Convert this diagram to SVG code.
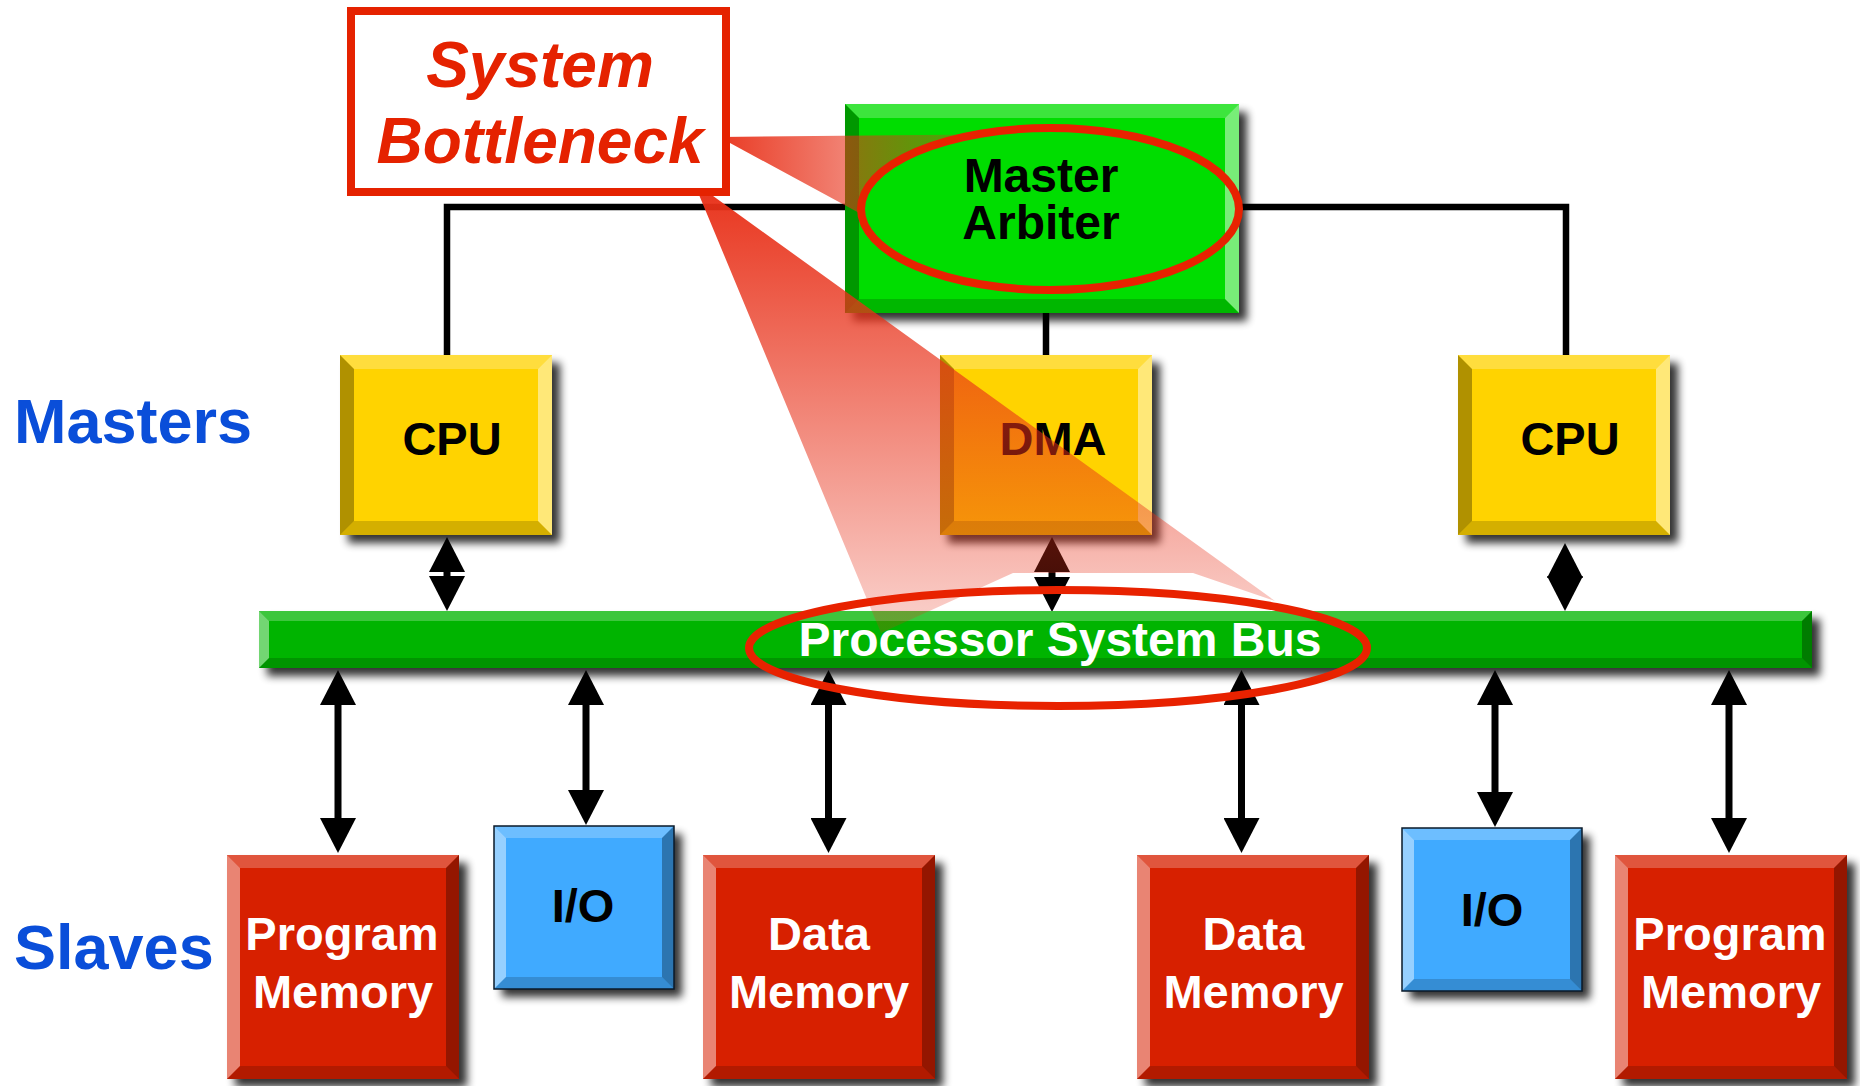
<svg xmlns="http://www.w3.org/2000/svg" xmlns:xlink="http://www.w3.org/1999/xlink" width="1860" height="1086" viewBox="0 0 1860 1086">
<style>
.top{fill:#fff;fill-opacity:.24}
.bot{fill:#000;fill-opacity:.17}
.ld{fill:#000;fill-opacity:.31}
.ll{fill:#fff;fill-opacity:.45}
.rl{fill:#fff;fill-opacity:.47}
.rd{fill:#000;fill-opacity:.31}
.shd{fill:#000;opacity:.8;filter:url(#blur)}
.wire{fill:none;stroke:#000;stroke-width:6.5;stroke-linejoin:miter}
.arr{stroke:#000;stroke-width:7;marker-start:url(#ah);marker-end:url(#ah)}
.t{font-family:"Liberation Sans",Arial,Helvetica,sans-serif;font-weight:bold;text-anchor:middle}
.blk{fill:#000;font-size:47px}
.wht{fill:#fff;font-size:47px}
.side{font-family:"Liberation Sans",Arial,Helvetica,sans-serif;font-weight:bold;font-size:63px;fill:#0A4ED9}
.co{font-family:"Liberation Sans",Arial,Helvetica,sans-serif;font-weight:bold;font-style:italic;font-size:64px;fill:#E52200;text-anchor:middle}
.ring{fill:none;stroke:#E82200;stroke-width:8}
</style>
<defs>
<filter id="blur" x="-20%" y="-20%" width="140%" height="140%"><feGaussianBlur stdDeviation="4"/></filter>
<marker id="ah" viewBox="0 0 35 36" refX="15" refY="18" markerWidth="35" markerHeight="36" markerUnits="userSpaceOnUse" orient="auto-start-reverse"><path d="M0,0 L35,18 L0,36 Z" fill="#000"/></marker>
<linearGradient id="gV" gradientUnits="userSpaceOnUse" x1="0" y1="197" x2="0" y2="633">
<stop offset="0" stop-color="#E83018" stop-opacity=".96"/><stop offset="1" stop-color="#E83018" stop-opacity=".21"/>
</linearGradient>
<linearGradient id="gH" gradientUnits="userSpaceOnUse" x1="730" y1="0" x2="975" y2="0">
<stop offset="0" stop-color="#E83018" stop-opacity=".92"/><stop offset="1" stop-color="#E83018" stop-opacity=".25"/>
</linearGradient>
<g id="boxY">
<rect x="8" y="8" width="212" height="180" class="shd"/>
<rect width="212" height="180" fill="#FFD300"/>
<polygon class="top" points="0,0 212,0 198,14 14,14"/>
<polygon class="ld" points="0,0 14,14 14,166 0,180"/>
<polygon class="rl" points="212,0 212,180 198,166 198,14"/>
<polygon class="bot" points="0,180 14,166 198,166 212,180"/>
</g>
<g id="boxM">
<rect x="8" y="8" width="232" height="224" class="shd"/>
<rect width="232" height="224" fill="#D72000"/>
<polygon class="top" points="0,0 232,0 219,13 13,13"/>
<polygon class="ll" points="0,0 13,13 13,211 0,224"/>
<polygon class="rd" points="232,0 232,224 219,211 219,13"/>
<polygon class="bot" points="0,224 13,211 219,211 232,224"/>
</g>
<g id="boxIO">
<rect x="8" y="8" width="180" height="163" class="shd"/>
<rect width="180" height="163" fill="#40AAFF"/>
<polygon class="top" points="0,0 180,0 168,12 12,12"/>
<polygon class="ll" points="0,0 12,12 12,151 0,163"/>
<polygon class="rd" points="180,0 180,163 168,151 168,12"/>
<polygon class="bot" points="0,163 12,151 168,151 180,163"/>
<rect width="180" height="163" fill="none" stroke="#0A1A2A" stroke-width="1.5"/>
</g>
</defs>
<rect width="1860" height="1086" fill="#fff"/>

<g id="connectors">
<path class="wire" d="M447,356 V207 H1566 V356"/>
<path class="wire" d="M1046,313 V356"/>
<line class="arr" x1="447" y1="557" x2="447" y2="591"/>
<line class="arr" x1="1052" y1="557" x2="1052" y2="592"/>
<line class="arr" x1="1565" y1="563" x2="1565" y2="591"/>
<line class="arr" x1="338" y1="690" x2="338" y2="833"/>
<line class="arr" x1="586" y1="690" x2="586" y2="805"/>
<line class="arr" x1="828.5" y1="690" x2="828.5" y2="833"/>
<line class="arr" x1="1241.5" y1="690" x2="1241.5" y2="833"/>
<line class="arr" x1="1495" y1="690" x2="1495" y2="807"/>
<line class="arr" x1="1729" y1="690" x2="1729" y2="833"/>
</g>

<g id="arbiter">
<rect x="853" y="112" width="394" height="209" class="shd"/>
<rect x="845" y="104" width="394" height="209" fill="#00DD00"/>
<polygon class="top" points="845,104 1239,104 1225,118 859,118"/>
<polygon class="ld" points="845,104 859,118 859,299 845,313"/>
<polygon class="rl" points="1239,104 1239,313 1225,299 1225,118"/>
<polygon class="bot" points="845,313 859,299 1225,299 1239,313"/>
<text class="t blk" x="1041" y="192" style="font-size:48px">Master</text>
<text class="t blk" x="1041" y="239" style="font-size:48px">Arbiter</text>
</g>

<g id="cpu1">
<use xlink:href="#boxY" x="340" y="355"/>
<text class="t blk" x="452" y="455">CPU</text>
</g>
<g id="dma">
<use xlink:href="#boxY" x="940" y="355"/>
<text class="t blk" x="1053" y="455">DMA</text>
</g>
<g id="cpu2">
<use xlink:href="#boxY" x="1458" y="355"/>
<text class="t blk" x="1570" y="455">CPU</text>
</g>

<g id="bus">
<rect x="267" y="619" width="1553" height="57" class="shd"/>
<rect x="259" y="611" width="1553" height="57" fill="#00B400"/>
<polygon class="top" points="259,611 1812,611 1802,621 269,621"/>
<polygon class="ll" points="259,611 269,621 269,658 259,668"/>
<polygon class="rd" points="1812,611 1812,668 1802,658 1802,621"/>
<polygon class="bot" points="259,668 269,658 1802,658 1812,668"/>
<text class="t" x="1060" y="656" style="font-size:48px;fill:#fff">Processor System Bus</text>
</g>

<g id="pm1">
<use xlink:href="#boxM" x="227" y="855"/>
<text class="t wht" x="342" y="950">Program</text>
<text class="t wht" x="343" y="1008">Memory</text>
</g>
<g id="io1">
<use xlink:href="#boxIO" x="494" y="826"/>
<text class="t blk" x="583" y="922">I/O</text>
</g>
<g id="dm1">
<use xlink:href="#boxM" x="703" y="855"/>
<text class="t wht" x="819" y="950">Data</text>
<text class="t wht" x="819" y="1008">Memory</text>
</g>
<g id="dm2">
<use xlink:href="#boxM" x="1137" y="855"/>
<text class="t wht" x="1253.5" y="950">Data</text>
<text class="t wht" x="1253.5" y="1008">Memory</text>
</g>
<g id="io2">
<use xlink:href="#boxIO" x="1402" y="828"/>
<text class="t blk" x="1492" y="926">I/O</text>
</g>
<g id="pm2">
<use xlink:href="#boxM" x="1615" y="855"/>
<text class="t wht" x="1730" y="950">Program</text>
<text class="t wht" x="1731" y="1008">Memory</text>
</g>

<g id="labels">
<text class="side" x="14" y="443">Masters</text>
<text class="side" x="14" y="969">Slaves</text>
</g>

<g id="bottleneck">
<path d="M693.7,182 L881,633 L1013,573 L1193,573 L1275,601 Z" fill="url(#gV)"/>
<path d="M719,137 L975,134.6 A189,81 0 0 0 861.5,214 L874,221 Z" fill="url(#gH)"/>
<rect x="351" y="11" width="375" height="181" fill="#fff" stroke="#E52200" stroke-width="8"/>
<text class="co" x="540" y="87">System</text>
<text class="co" x="540" y="163">Bottleneck</text>
<ellipse class="ring" cx="1050" cy="209" rx="189" ry="81"/>
<ellipse class="ring" cx="1058" cy="648" rx="309" ry="58"/>
</g>
</svg>
